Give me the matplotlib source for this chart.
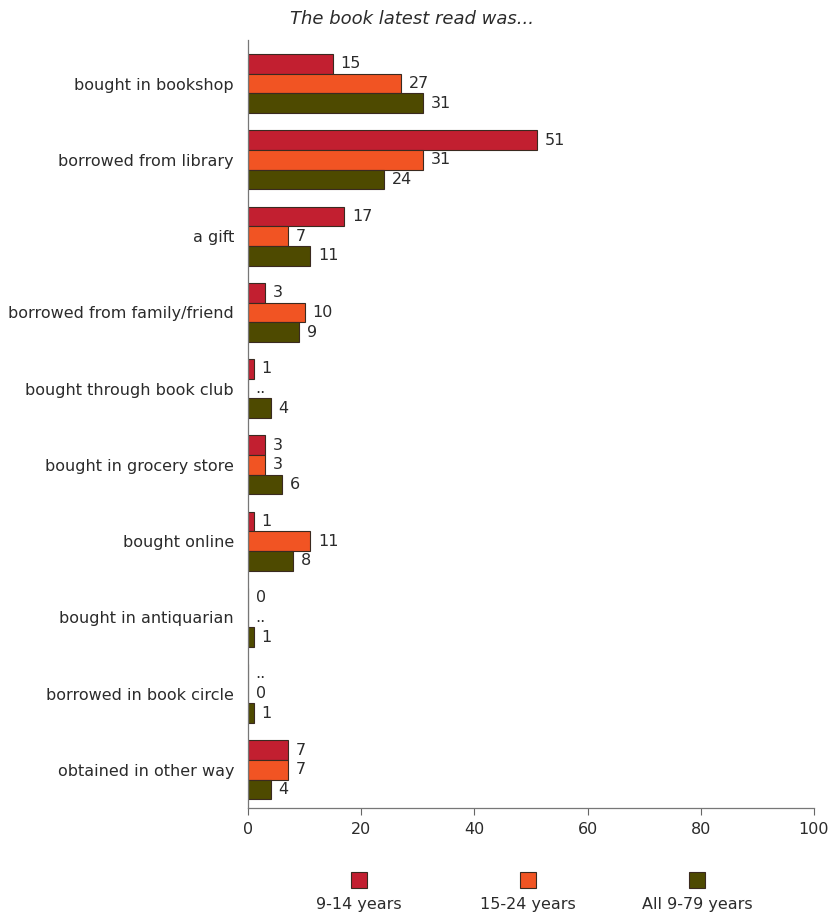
import matplotlib
matplotlib.use("Agg")
import matplotlib.pyplot as plt
from matplotlib.patches import Rectangle
import numpy as np

categories = [
    "bought in bookshop",
    "borrowed from library",
    "a gift",
    "borrowed from family/friend",
    "bought through book club",
    "bought in grocery store",
    "bought online",
    "bought in antiquarian",
    "borrowed in book circle",
    "obtained in other way",
]
series_names = ["9-14 years", "15-24 years", "All 9-79 years"]
# None marks a value not available (shown as "..")
ages_9_14 = [15, 51, 17, 3, 1, 3, 1, 0, None, 7]
ages_15_24 = [27, 31, 7, 10, None, 3, 11, None, 0, 7]
ages_all = [31, 24, 11, 9, 4, 6, 8, 1, 1, 4]
colors = ["#C21F30", "#F15423", "#4E4A00"]
x_ticks = [0, 20, 40, 60, 80, 100]
title = "The book latest read was..."

W, H, DPI = 832, 914, 100
fig = plt.figure(figsize=(W / DPI, H / DPI), dpi=DPI)
plt.rcParams["font.family"] = ["DejaVu Sans"]
text_color = "#2b2b2b"
fs = 11.5

ax = fig.add_axes([248 / W, 1 - 808 / H, (814 - 248) / W, (808 - 40) / H])

series = [ages_9_14, ages_15_24, ages_all]
n = len(categories)
bar_h = 0.258
y_base = np.arange(n)

for si, (vals, col) in enumerate(zip(series, colors)):
    ys = y_base + (si - 1) * bar_h
    widths = [v if v is not None else 0 for v in vals]
    ax.barh(ys, widths, height=bar_h, color=col, edgecolor="#3a2a20",
            linewidth=0.8, zorder=2)
    for y, v in zip(ys, vals):
        label = ".." if v is None else f"{v}"
        xpos = (v if v is not None else 0)
        ax.annotate(label, xy=(xpos, y), xytext=(5.5, 0),
                    textcoords="offset points", va="center", ha="left",
                    fontsize=fs, color=text_color)

ax.set_ylim(n - 0.5, -0.572)
ax.set_xlim(0, 100)
ax.set_yticks(y_base)
ax.set_yticklabels(categories, fontsize=fs, color=text_color)
ax.tick_params(axis="y", length=0, pad=10)
ax.set_xticks(x_ticks)
ax.set_xticklabels([str(t) for t in x_ticks], fontsize=fs, color=text_color)
ax.tick_params(axis="x", length=5, width=0.8, color="#666666", pad=5)
for side in ["top", "right"]:
    ax.spines[side].set_visible(False)
for side in ["left", "bottom"]:
    ax.spines[side].set_color("#777777")
    ax.spines[side].set_linewidth(0.9)

fig.text(412 / W, 1 - 19 / H, title, ha="center", va="center",
         fontsize=13, style="italic", color=text_color)

# Legend: swatch with label underneath
leg_x = [359, 528, 697]
sw = 16
for cx, name, col in zip(leg_x, series_names, colors):
    fig.add_artist(Rectangle(((cx - sw / 2) / W, 1 - (880 + sw / 2) / H),
                             sw / W, sw / H, transform=fig.transFigure,
                             facecolor=col, edgecolor="#3a2a20", linewidth=0.8))
    fig.text(cx / W, 1 - 904 / H, name, ha="center", va="center",
             fontsize=fs, color=text_color)

fig.savefig("out.png", dpi=DPI)
